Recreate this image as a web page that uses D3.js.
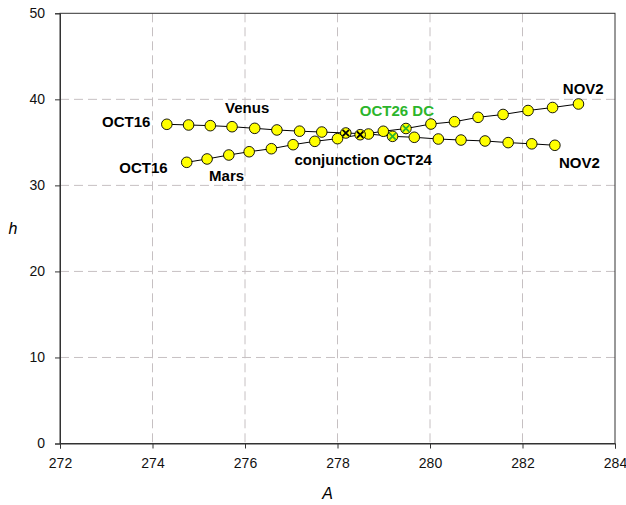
<!DOCTYPE html>
<html>
<head>
<meta charset="utf-8">
<script src="https://cdn.jsdelivr.net/npm/d3@7"></script>
<style>
	body { margin: 0; background: #fff; }
	svg { display: block; font-family: 'Liberation Sans', Arial, sans-serif; }
</style>
</head>
<body>
<svg></svg>
<script>
// daily positions OCT16 .. NOV2
const venusA = [ 274.31, 274.78, 275.25, 275.72, 276.21, 276.69, 277.18, 277.66, 278.18, 278.67, 279.19, 279.66, 280.18, 280.67, 281.19, 281.69, 282.2, 282.7 ];
const venusH = [ 37.1, 37.02, 36.94, 36.82, 36.63, 36.44, 36.3, 36.2, 36.09, 35.97, 35.7, 35.59, 35.39, 35.27, 35.16, 34.97, 34.83, 34.66 ];
const marsA = [ 274.74, 275.18, 275.65, 276.09, 276.57, 277.04, 277.51, 278.0, 278.49, 278.99, 279.48, 280.02, 280.53, 281.04, 281.58, 282.12, 282.65, 283.21 ];
const marsH = [ 32.68, 33.07, 33.53, 33.91, 34.26, 34.73, 35.12, 35.43, 35.89, 36.29, 36.61, 37.13, 37.4, 37.91, 38.24, 38.7, 39.05, 39.46 ];
const xTicks = [ 272, 274, 276, 278, 280, 282, 284 ];
const yTicks = [ 0, 10, 20, 30, 40, 50 ];
const conjIdx = 8; // OCT24
const dcIdx = 10; // OCT26

const width = 626,
	height = 505,
	padLeft = 60,
	padRight = 615,
	padTop = 13.3,
	padBottom = 443.5,
	r = 5.3;

const svg = d3.select('svg').attr('width', width).attr('height', height);
const xScale = d3.scaleLinear().domain([ 272, 284 ]).range([ padLeft, padRight ]);
const yScale = d3.scaleLinear().domain([ 0, 50 ]).range([ padBottom, padTop ]);

// grid
svg.append('g').selectAll('line').data(xTicks.slice(1, -1)).enter().append('line')
	.attr('x1', (d) => xScale(d)).attr('x2', (d) => xScale(d))
	.attr('y1', padTop).attr('y2', padBottom)
	.attr('stroke', '#c6c0c2').attr('stroke-dasharray', '9,5');
svg.append('g').selectAll('line').data(yTicks.slice(1, -1)).enter().append('line')
	.attr('y1', (d) => yScale(d)).attr('y2', (d) => yScale(d))
	.attr('x1', padLeft).attr('x2', padRight)
	.attr('stroke', '#c6c0c2').attr('stroke-dasharray', '9,5');

// frame
svg.append('rect').attr('x', padLeft).attr('y', padTop).attr('width', padRight - padLeft).attr('height', padBottom - padTop)
	.attr('fill', 'none').attr('stroke', '#333');

const xAxis = d3.axisBottom(xScale).tickValues(xTicks).tickFormat(d3.format('d')).tickSize(5).tickPadding(10);
const yAxis = d3.axisLeft(yScale).tickValues(yTicks).tickSize(5).tickPadding(10);
const gx = svg.append('g').attr('transform', 'translate(0,' + padBottom + ')').call(xAxis);
const gy = svg.append('g').attr('transform', 'translate(' + padLeft + ',0)').call(yAxis);
[ gx, gy ].forEach((g) => {
	g.select('.domain').attr('stroke', '#333');
	g.selectAll('.tick line').attr('stroke', '#333');
	g.selectAll('text').attr('font-size', '14px').attr('fill', '#111').attr('font-family', "'Liberation Sans', Arial, sans-serif");
});

svg.append('text').attr('x', (padLeft + padRight) / 2 - 10).attr('y', 499).attr('text-anchor', 'middle')
	.attr('font-size', '16px').attr('font-style', 'italic').text('A');
svg.append('text').attr('x', 13).attr('y', 234).attr('text-anchor', 'middle')
	.attr('font-size', '16px').attr('font-style', 'italic').text('h');

const line = d3.line().x((d) => xScale(d[0])).y((d) => yScale(d[1]));
const venus = venusA.map((a, i) => [ a, venusH[i] ]);
const mars = marsA.map((a, i) => [ a, marsH[i] ]);

[ venus, mars ].forEach((pts) => {
	svg.append('path').datum(pts).attr('d', line).attr('fill', 'none').attr('stroke', '#000').attr('stroke-width', 1);
});
[ venus, mars ].forEach((pts) => {
	svg.append('g').selectAll('circle').data(pts).enter().append('circle')
		.attr('cx', (d) => xScale(d[0])).attr('cy', (d) => yScale(d[1])).attr('r', r)
		.attr('fill', '#ffff00').attr('stroke', '#000').attr('stroke-width', 0.9);
});

function cross(p, color) {
	const cx = xScale(p[0]),
		cy = yScale(p[1]),
		s = 3.2;
	svg.append('path')
		.attr('d', `M${cx - s},${cy - s}L${cx + s},${cy + s}M${cx - s},${cy + s}L${cx + s},${cy - s}`)
		.attr('stroke', color).attr('stroke-width', 1.8).attr('fill', 'none');
}
cross(venus[conjIdx], '#000');
cross(mars[conjIdx], '#000');
cross(venus[dcIdx], '#2cb52c');
cross(mars[dcIdx], '#2cb52c');

// annotations, placed relative to their points
function label(p, dx, dy, txt, anchor, color) {
	svg.append('text')
		.attr('x', xScale(p[0]) + dx).attr('y', yScale(p[1]) + dy)
		.attr('text-anchor', anchor).attr('font-size', '15px').attr('font-weight', 'bold')
		.attr('fill', color || '#000').text(txt);
}
const vLast = venus[venus.length - 1],
	mLast = mars[mars.length - 1];
label(venus[0], -16.5, 3, 'OCT16', 'end');
label(mars[0], -19, 10.4, 'OCT16', 'end');
label(venus[3], -7, -14, 'Venus', 'start');
label(mars[1], 2, 22, 'Mars', 'start');
label(mars[conjIdx], 3, 30, 'conjunction OCT24', 'middle');
label(mars[dcIdx], -9, -12.8, 'OCT26 DC', 'middle', '#2cb52c');
label(mLast, -15.6, -10, 'NOV2', 'start');
label(vLast, 4, 23, 'NOV2', 'start');
</script>
</body>
</html>
